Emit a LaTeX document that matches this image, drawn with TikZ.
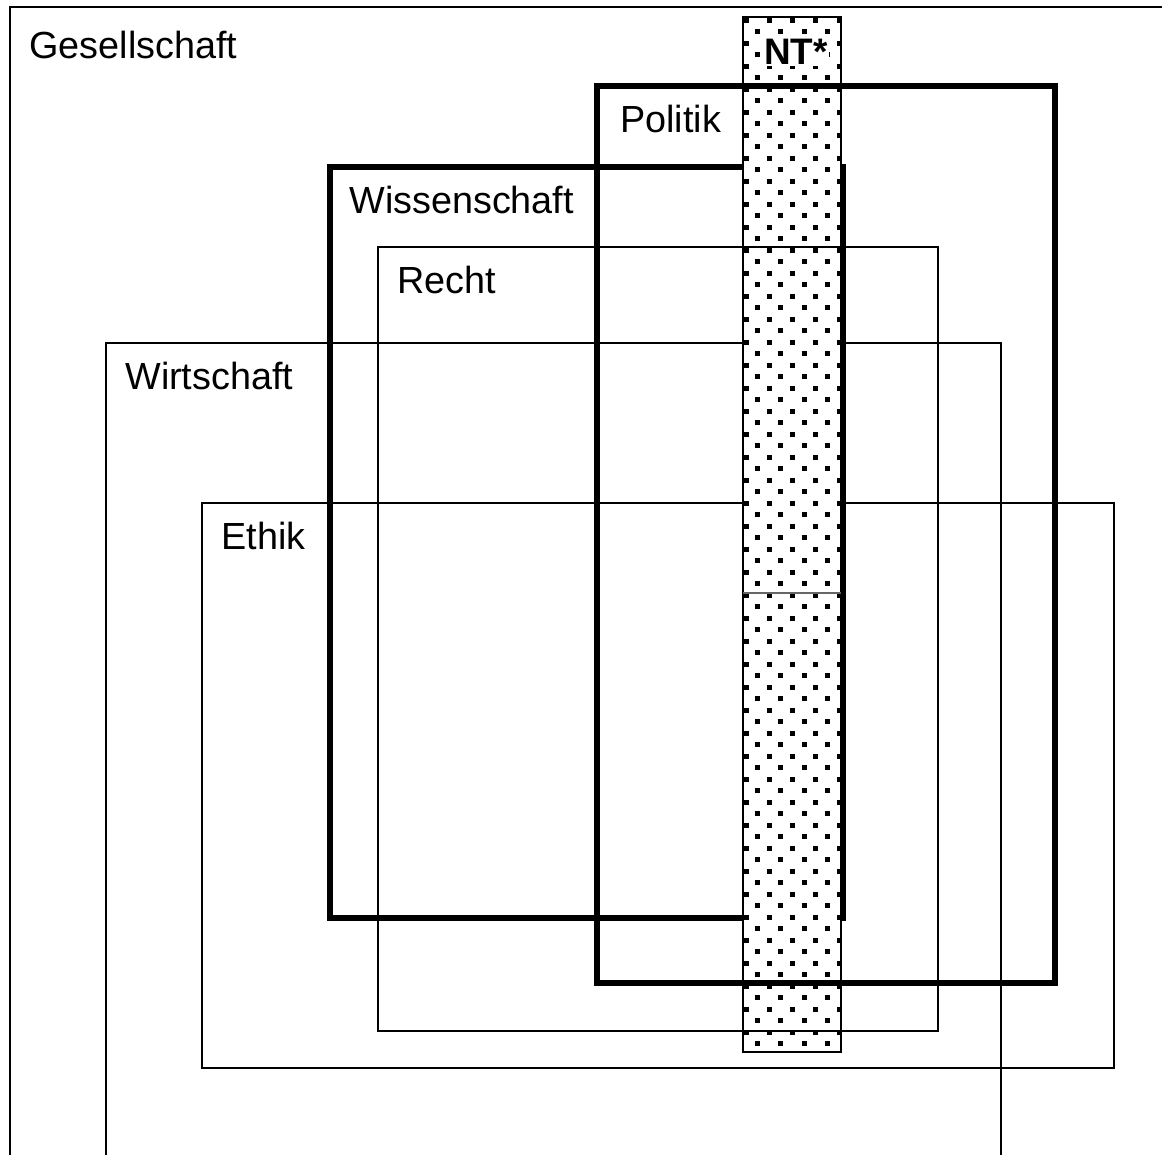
\documentclass[tikz,border=0pt]{standalone}
\usepackage{fontspec}
\setmainfont{Liberation Sans}
\usetikzlibrary{positioning}
\begin{document}
\begin{tikzpicture}[x=0.02cm, y=-0.02cm,
  font=\fontsize{21.5}{25}\selectfont,
  thinbox/.style={draw, line width=1.1pt},
  thickbox/.style={draw, line width=3.2pt},
  lbl/.style={anchor=base west, inner sep=0pt},
  dotsq/.style={fill=black}]
\useasboundingbox (0,0) rectangle (1162,1154);
\clip (0,0) rectangle (1162,1154);
% outer fields
\draw[thinbox] (10,7) rectangle (1220,1220);
\node[lbl] (ges) at (29,58) {Gesellschaft};
\draw[thinbox] (106,343) rectangle (1001,1220);
\node[lbl] (wir) at (125,389) {Wirtschaft};
\draw[thinbox] (202,503) rectangle (1114,1068);
\node[lbl] (eth) at (221,549) {Ethik};
\draw[thickbox] (330,167) rectangle (843,918);
\node[lbl] (wis) at (349,213) {Wissenschaft};
% NT strip
\draw[thinbox, fill=white] (743,17) rectangle (841,1052);
\foreach \r in {0,...,44} {
  \foreach \i in {0,...,4}
    \fill[dotsq] ({746+23.25*\i-2.5},{20+23*\r-2.5}) rectangle ++(5,5);
  \foreach \i in {0,...,3}
    \fill[dotsq] ({757.5+23.25*\i-2.5},{31.5+23*\r-2.5}) rectangle ++(5,5);
}
\draw[line width=0.6pt, black!60] (743,593) -- (841,593);
\node[font=\fontsize{21}{25}\selectfont\bfseries, fill=white, inner sep=0.5pt] (nt) at (796,52) {NT*};
% inner fields
\draw[thinbox] (378,247) rectangle (938,1031);
\node[lbl] (rec) at (397,293) {Recht};
\draw[thickbox] (597,86) rectangle (1055,983);
\node[lbl] (pol) at (620,132) {Politik};
\end{tikzpicture}
\end{document}
